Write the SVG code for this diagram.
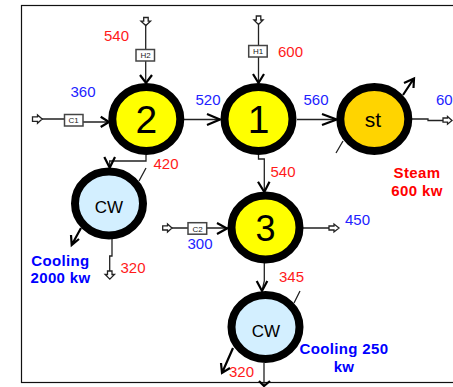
<svg xmlns="http://www.w3.org/2000/svg" width="453" height="387" viewBox="0 0 453 387">
<style>
text{font-family:"Liberation Sans",Arial,sans-serif}
.n{stroke:#000;stroke-width:8}
.c{fill:none;stroke:#222;stroke-width:1.3}
.h{fill:none;stroke:#000;stroke-width:2.2}
.o{fill:#fff;stroke:#222;stroke-width:1.3}
.b{fill:#fff;stroke:#444;stroke-width:1.5}
.l{font-size:15px}
.r{fill:#ff1a1a}
.u{fill:#2222ff}
.bl{font-size:15px;font-weight:bold;text-anchor:middle;letter-spacing:.35px}
.br{fill:#f00}
.bu{fill:#00f}
.box{font-size:8px;text-anchor:middle;fill:#222}
</style>
<rect x="21.500" y="5.500" width="440" height="377" fill="#fff" stroke="#111" stroke-width="1.2"/>
<g id="connectors">
<path class="c" d="M145.700 25V83M42 119H65M83 122H108M184 119.500H220M146 155V161H109.700V167M258.500 25V83M297 119.500H336M412 119H428V120.500H443M258.500 155V159H264.300V192M172 228H228M303 228H329M264.300 263V281L262 291M112 239V256H109.700V271M264 363V386M343 141L336 153M146 168L139 181M300 291L294 303"/>
<path class="h" d="M140 75L146 83L152 75M100.700 116.700L109 122L100.700 127M207 114L220 119.500L207 125M104.300 157L109.700 167.700L115 157M253 74L258.500 83L264 74M322 114L336.700 119.500L322 125M258 181.700L264.300 192L269.500 181.700M217 223L227 228.500L217 234M256.700 281L262 291L267.300 281M259 381L264 386L270 381"/>
<path class="h" d="M403 95L413.500 79M404 83L414 78.500L413.500 88M81 228L71.700 245M71 235L71.700 245L79 239M233 348L222 373M221 363L222 373L230 368"/>
</g>
<g id="in-h2"><path class="o" d="M143.700 17.500h4.500v3.700h2.300l-4.700 4.300-4.800-4.300h2.700z"/><rect class="b" x="136" y="49.500" width="18.500" height="11.500"/><text class="box" x="145.500" y="58">H2</text></g>
<g id="in-c1"><path class="o" d="M37.500 116.800v-1.800l4.700 4-4.700 4.300v-2h-5v-4.500z"/><rect class="b" x="64.500" y="114.500" width="18.500" height="11.500"/><text class="box" x="73.700" y="123">C1</text></g>
<g id="in-h1"><path class="o" d="M256.300 16h4.500v4h2.300l-4.600 4.500-4.600-4.500h2.400z"/><rect class="b" x="248.700" y="45.500" width="18.500" height="11.500"/><text class="box" x="258" y="54">H1</text></g>
<g id="in-c2"><path class="o" d="M167.500 225.800v-1.800l4.500 4-4.500 4v-2h-4.800v-4.200z"/><rect class="b" x="188" y="222.700" width="18.700" height="11.500"/><text class="box" x="197.500" y="231.500">C2</text></g>
<g id="node-2"><ellipse class="n" cx="146.300" cy="119" rx="34" ry="32" fill="#ffff00"/><text x="146.300" y="133" font-size="39" text-anchor="middle">2</text></g>
<g id="node-1"><ellipse class="n" cx="258.500" cy="119" rx="34" ry="32" fill="#ffff00"/><text x="258.500" y="133" font-size="39" text-anchor="middle">1</text></g>
<g id="node-st"><ellipse class="n" cx="374.300" cy="119" rx="34" ry="32" fill="#ffd400"/><text x="373" y="127" font-size="21" text-anchor="middle">st</text></g>
<g id="node-cw1"><ellipse class="n" cx="109" cy="203.500" rx="34" ry="32" fill="#d3efff"/><text x="109" y="213" font-size="17" text-anchor="middle">CW</text></g>
<g id="node-3"><ellipse class="n" cx="265.500" cy="227.500" rx="34" ry="32" fill="#ffff00"/><text x="265.500" y="241" font-size="36" text-anchor="middle">3</text></g>
<g id="node-cw2"><ellipse class="n" cx="265.500" cy="327" rx="34" ry="32" fill="#d3efff"/><text x="266" y="337" font-size="17" text-anchor="middle">CW</text></g>
<g id="out-st"><path class="o" d="M447.500 118v-1.500l4.500 4-4.500 3.700v-2h-4.500v-4.200z"/></g>
<g id="out-3"><path class="o" d="M334 226v-2l5 4-5 4v-2h-5v-4z"/></g>
<g id="out-cw1"><path class="o" d="M107.500 271h4.500v3.500h2.500l-4.700 4.700-4.700-4.700h2.400z"/></g>
<g id="labels">
<text class="l r" x="104" y="41">540</text>
<text class="l u" x="70.500" y="97">360</text>
<text class="l u" x="195.500" y="105">520</text>
<text class="l r" x="153.500" y="169">420</text>
<text class="l r" x="278" y="57">600</text>
<text class="l u" x="303.500" y="105">560</text>
<text class="l u" x="436" y="105">60</text>
<text class="l r" x="270.500" y="177">540</text>
<text class="bl br" x="417" y="178">Steam</text>
<text class="bl br" x="417" y="196">600 kw</text>
<text class="l u" x="187.500" y="249">300</text>
<text class="l r" x="120.500" y="273">320</text>
<text class="l u" x="345" y="225">450</text>
<text class="l r" x="279" y="282">345</text>
<text class="bl bu" x="60.500" y="266">Cooling</text>
<text class="bl bu" x="60.500" y="283">2000 kw</text>
<text class="bl bu" x="344" y="354">Cooling 250</text>
<text class="bl bu" x="344" y="372">kw</text>
<text class="l r" x="229" y="377">320</text>
</g>
</svg>
